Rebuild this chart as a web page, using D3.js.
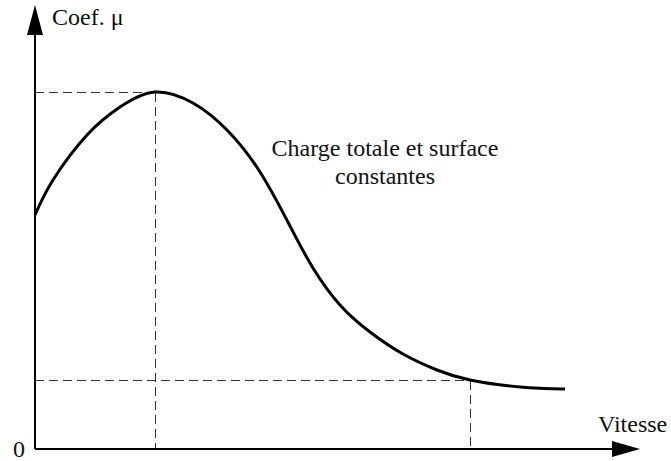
<!DOCTYPE html>
<html><head><meta charset="utf-8">
<script src="https://cdn.jsdelivr.net/npm/d3@7"></script>
<style>body{margin:0;background:#fff}svg{display:block}</style>
</head><body>
<script>
// Data (abstract units: speed 0..100, coefficient 0..100)
const speed = [0, 3, 8.67, 14.17, 20, 26.33, 32, 37.5, 42.5, 46.33, 50.83, 55.83, 61.33, 67, 72.5, 80.83, 88.33];
const coef  = [58.5, 67.25, 78.5, 85.5, 89.25, 86.5, 79.75, 69.25, 55.75, 45.25, 36, 29.25, 23.75, 19.75, 17.25, 15.5, 15];
const peakPoint = {x: 20, y: 89.25};
const lowPoint = {x: 72.5, y: 17.25};
const labels = {y: "Coef. μ", x: "Vitesse", origin: "0", note: ["Charge totale et surface", "constantes"]};

const W = 671, H = 461;
const svg = d3.select("body").append("svg").attr("width", W).attr("height", H);
const x = d3.scaleLinear().domain([0, 100]).range([35, 635]);
const y = d3.scaleLinear().domain([0, 100]).range([449, 49]);

// dashed guides
const dash = svg.append("g").attr("stroke", "#333").attr("stroke-width", 1)
  .attr("stroke-dasharray", "9,5").attr("fill", "none").attr("shape-rendering", "crispEdges");
[peakPoint, lowPoint].forEach(p => {
  const px = Math.round(x(p.x)) + 0.5, py = Math.round(y(p.y)) + 0.5;
  dash.append("line").attr("x1", x(0)).attr("x2", px).attr("y1", py).attr("y2", py);
  dash.append("line").attr("x1", px).attr("x2", px).attr("y1", py).attr("y2", y(0));
});

// axes
svg.append("line").attr("x1", x(0)).attr("x2", 615).attr("y1", y(0)).attr("y2", y(0)).attr("stroke", "#000").attr("stroke-width", 2);
svg.append("line").attr("x1", x(0)).attr("x2", x(0)).attr("y1", y(0)).attr("y2", 32).attr("stroke", "#000").attr("stroke-width", 2);
svg.append("path").attr("d", `M${x(0)},5 L${x(0)-8},35 L${x(0)+8},35 Z`).attr("fill", "#000");
svg.append("path").attr("d", `M640,${y(0)} L612,${y(0)-8} L612,${y(0)+8} Z`).attr("fill", "#000");

// curve
const pts = speed.map((s, i) => [s, coef[i]]);
svg.append("path").datum(pts)
  .attr("d", d3.line().x(d => x(d[0])).y(d => y(d[1])).curve(d3.curveNatural))
  .attr("fill", "none").attr("stroke", "#000").attr("stroke-width", 3);

// text
function txt(xp, yp, s, anchor) {
  svg.append("text").attr("x", xp).attr("y", yp)
    .style("font-family", "Liberation Serif").style("font-size", "24px").style("fill", "#111")
    .attr("text-anchor", anchor || "start").text(s);
}
txt(52, 25, labels.y);
txt(598, 432, labels.x);
txt(13, 457, labels.origin);
txt(385, 156, labels.note[0], "middle");
txt(385, 184, labels.note[1], "middle");
</script>
</body></html>
